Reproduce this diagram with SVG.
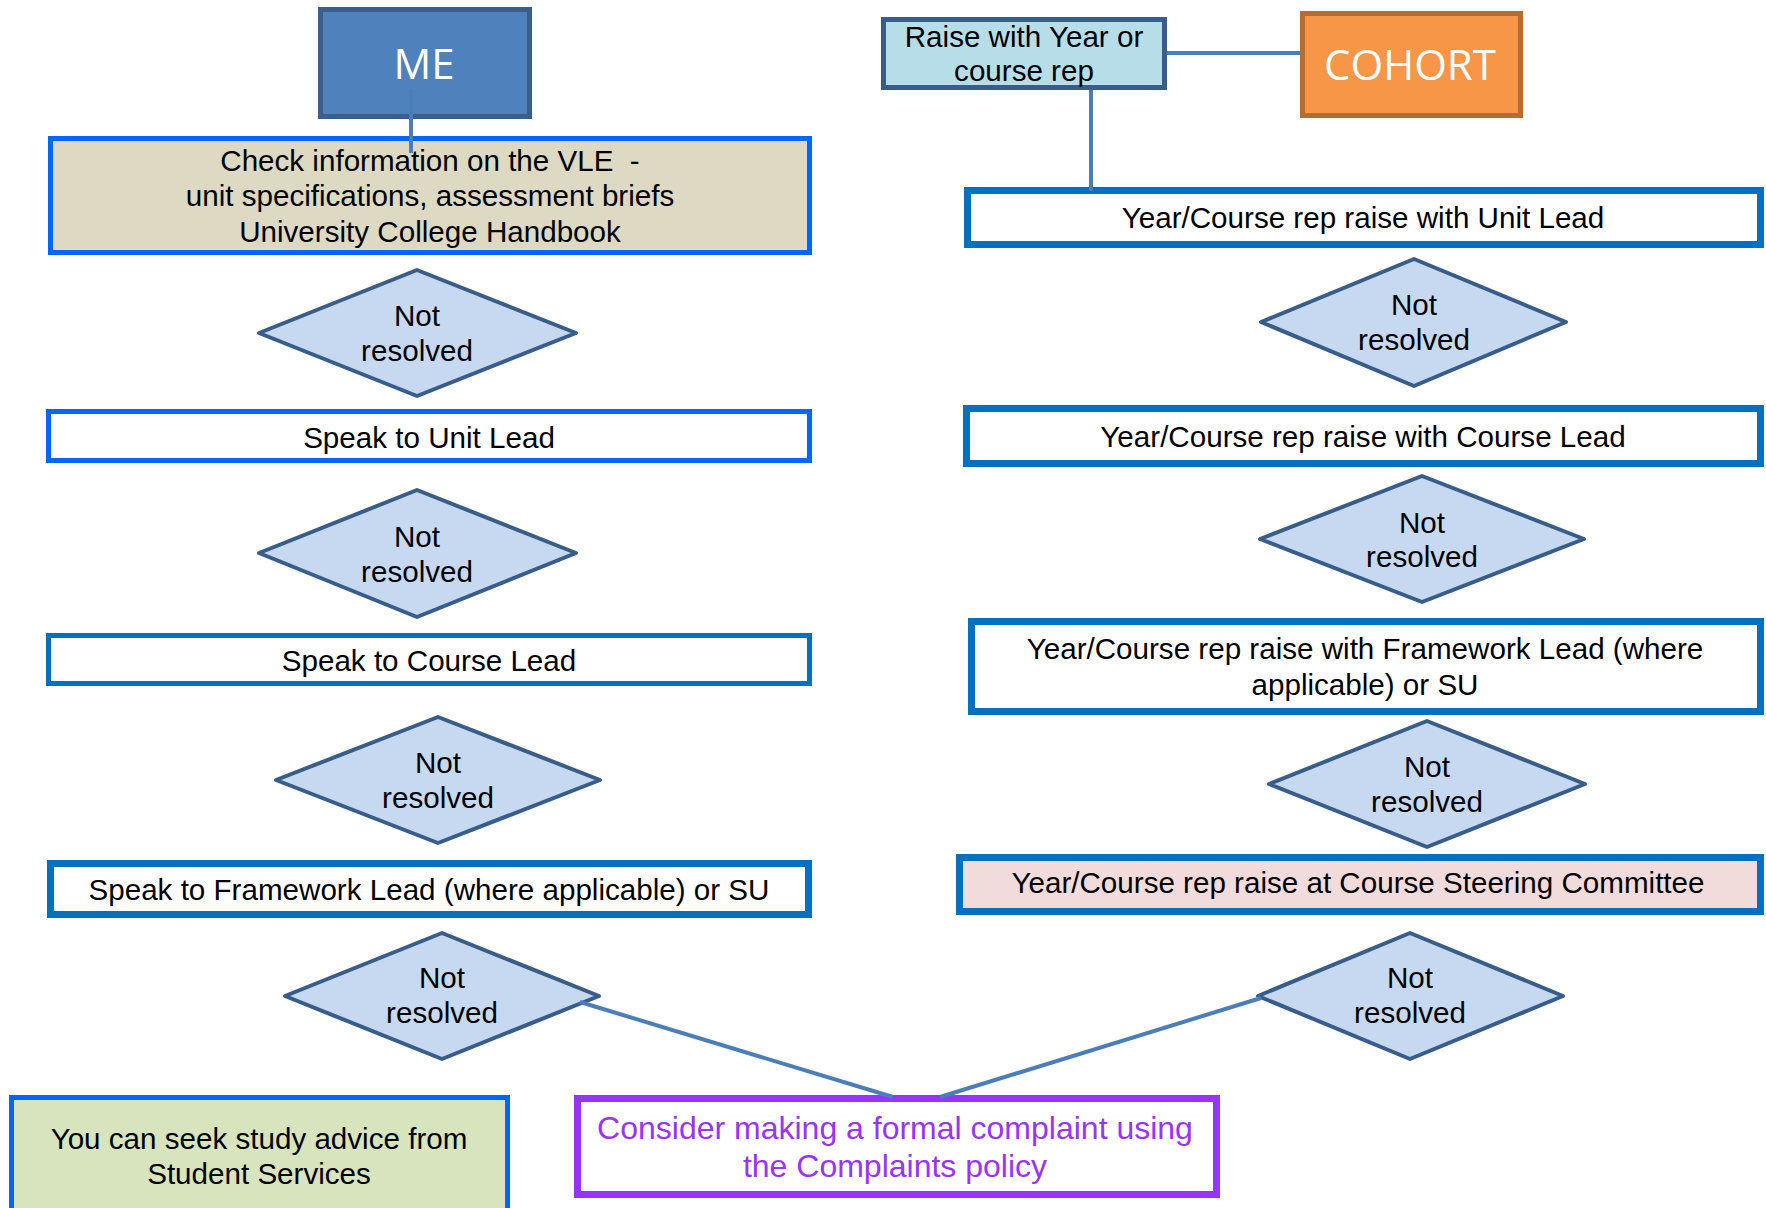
<svg xmlns="http://www.w3.org/2000/svg" width="1766" height="1208" viewBox="0 0 1766 1208">
<style>
  .t { font-family: "Liberation Sans", Arial, sans-serif; font-size: 29.6px; fill: #000; text-anchor: middle; }
  .big { font-family: "Open Sans", "Liberation Sans", sans-serif; font-size: 42px; fill: #fff; text-anchor: middle; }
  .purple { fill: #9933FF; font-size: 32px; }
  .dia { fill: #C6D9F1; stroke: #385D8A; stroke-width: 4; stroke-linejoin: round; }
  .bb { fill: #fff; stroke: #0066FF; stroke-width: 5; }
  .db { fill: #fff; stroke: #0070C0; stroke-width: 5; }
  .db7 { fill: #fff; stroke: #0070C0; stroke-width: 7; }
  .conn { stroke: #4A7EBB; fill: none; stroke-width: 4; }
</style>
<rect width="1766" height="1208" fill="#fff"/>
<g id="nodes">
  <g id="me">
    <rect x="320.5" y="9.5" width="209" height="107" fill="#4F81BD" stroke="#3B5E8C" stroke-width="5"/>
    <text class="big" x="424" y="79">ME</text>
  </g>
  <g id="check">
    <rect x="50.5" y="138.5" width="759" height="114" class="bb" style="fill:#DDD9C3"/>
    <text class="t" x="430" y="171" xml:space="preserve">Check information on the VLE  -</text>
    <text class="t" x="430" y="206">unit specifications, assessment briefs</text>
    <text class="t" x="430" y="242">University College Handbook</text>
  </g>
  <g id="d1">
    <polygon class="dia" points="417,270 576,333 417,396 259,333"/>
    <text class="t" x="417" y="326">Not</text>
    <text class="t" x="417" y="361">resolved</text>
  </g>
  <g id="unitlead">
    <rect x="48.5" y="411.5" width="761" height="49" class="bb"/>
    <text class="t" x="429" y="448">Speak to Unit Lead</text>
  </g>
  <g id="d2">
    <polygon class="dia" points="417,490 576,553 417,617 259,553"/>
    <text class="t" x="417" y="547">Not</text>
    <text class="t" x="417" y="582">resolved</text>
  </g>
  <g id="courselead">
    <rect x="48.5" y="635.5" width="761" height="48" class="db"/>
    <text class="t" x="429" y="671">Speak to Course Lead</text>
  </g>
  <g id="d3">
    <polygon class="dia" points="438,717 600,780 438,843 276,780"/>
    <text class="t" x="438" y="773">Not</text>
    <text class="t" x="438" y="808">resolved</text>
  </g>
  <g id="frameworkL">
    <rect x="50.5" y="863.5" width="758" height="51" class="db7"/>
    <text class="t" x="429" y="900">Speak to Framework Lead (where applicable) or SU</text>
  </g>
  <g id="d4">
    <polygon class="dia" points="442,933 599,996 442,1059 285,996"/>
    <text class="t" x="442" y="988">Not</text>
    <text class="t" x="442" y="1023">resolved</text>
  </g>
  <g id="study">
    <rect x="11.5" y="1097.5" width="496" height="125" class="bb" style="fill:#D7E4BD"/>
    <text class="t" x="259" y="1149">You can seek study advice from</text>
    <text class="t" x="259" y="1184">Student Services</text>
  </g>
  <g id="complaint">
    <rect x="577.5" y="1098.5" width="639" height="96" fill="#fff" stroke="#9933FF" stroke-width="7"/>
    <text class="t purple" x="895" y="1139">Consider making a formal complaint using</text>
    <text class="t purple" x="895" y="1177">the Complaints policy</text>
  </g>
  <g id="raise">
    <rect x="883.5" y="19.5" width="281" height="68" fill="#B7DEE8" stroke="#385D8A" stroke-width="5"/>
    <text class="t" x="1024" y="47">Raise with Year or</text>
    <text class="t" x="1024" y="81">course rep</text>
  </g>
  <g id="cohort">
    <rect x="1302.5" y="13.5" width="218" height="102" fill="#F79646" stroke="#B66D31" stroke-width="5"/>
    <text class="big" x="1410" y="80">COHORT</text>
  </g>
  <g id="rUnit">
    <rect x="967.5" y="190.5" width="793" height="54" class="db7"/>
    <text class="t" x="1363" y="228">Year/Course rep raise with Unit Lead</text>
  </g>
  <g id="r1">
    <polygon class="dia" points="1414,259 1566,322 1414,386 1261,322"/>
    <text class="t" x="1414" y="315">Not</text>
    <text class="t" x="1414" y="350">resolved</text>
  </g>
  <g id="rCourse">
    <rect x="966.5" y="408.5" width="794" height="55" class="db7"/>
    <text class="t" x="1363" y="447">Year/Course rep raise with Course Lead</text>
  </g>
  <g id="r2">
    <polygon class="dia" points="1422,476 1584,539 1422,602 1260,539"/>
    <text class="t" x="1422" y="533">Not</text>
    <text class="t" x="1422" y="567">resolved</text>
  </g>
  <g id="rFramework">
    <rect x="971.5" y="621.5" width="789" height="90" class="db7"/>
    <text class="t" x="1365" y="659">Year/Course rep raise with Framework Lead (where</text>
    <text class="t" x="1365" y="695">applicable) or SU</text>
  </g>
  <g id="r3">
    <polygon class="dia" points="1427,721 1585,784 1427,847 1269,784"/>
    <text class="t" x="1427" y="777">Not</text>
    <text class="t" x="1427" y="812">resolved</text>
  </g>
  <g id="steering">
    <rect x="959.5" y="857.5" width="801" height="54" class="db7" style="fill:#F2DCDB"/>
    <text class="t" x="1358" y="893">Year/Course rep raise at Course Steering Committee</text>
  </g>
  <g id="r4">
    <polygon class="dia" points="1410,933 1563,996 1410,1059 1258,996"/>
    <text class="t" x="1410" y="988">Not</text>
    <text class="t" x="1410" y="1023">resolved</text>
  </g>
</g>
<g id="connectors">
  <line class="conn" x1="411" y1="89" x2="411" y2="153" stroke-width="3.5"/>
  <line class="conn" x1="1167" y1="53" x2="1300" y2="53"/>
  <line class="conn" x1="1091" y1="90" x2="1091" y2="191" stroke-width="3.5"/>
  <line class="conn" x1="580" y1="1002" x2="893" y2="1097"/>
  <line class="conn" x1="1261" y1="998" x2="940" y2="1097"/>
</g>
</svg>
